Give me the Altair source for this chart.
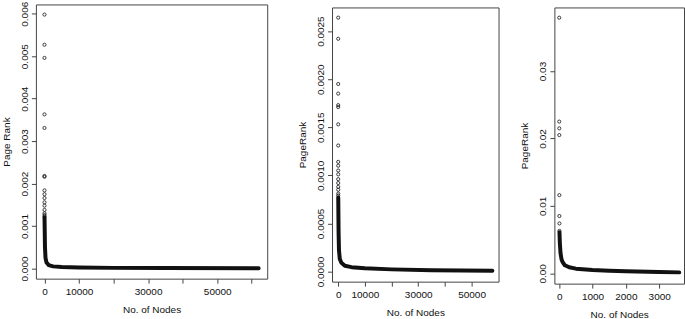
import altair as alt
import pandas as pd

FONT = "Liberation Sans"

# ---------------- Panel 1 ----------------
p1_point_rank = [1, 2, 3, 4, 5, 6, 7, 8, 9, 10, 11, 12, 13, 14, 15, 16]
p1_point_pr = [0.00598, 0.00527, 0.00496, 0.00363, 0.00331, 0.00218, 0.00216,
               0.00184, 0.00175, 0.00166, 0.00156, 0.00148, 0.00138, 0.00130,
               0.00126, 0.00122]
p1_curve_rank = [17, 150, 300, 600, 1200, 2500, 5000, 10000, 20000, 35000, 62000]
p1_curve_pr = [0.00120, 0.00050, 0.00025, 0.00014, 0.00008, 0.00005, 0.000035,
               0.000025, 0.000015, 0.00001, 0.000005]
p1_xticks = [0, 10000, 20000, 30000, 40000, 50000, 60000]
p1_xlabels = [0, 10000, 30000, 50000]
p1_yticks = [0.000, 0.001, 0.002, 0.003, 0.004, 0.005, 0.006]

# ---------------- Panel 2 ----------------
p2_point_rank = list(range(1, 19))
p2_point_pr = [0.00264, 0.00242, 0.00195, 0.00185, 0.00173, 0.00171, 0.00153,
               0.00131, 0.00114, 0.00110, 0.00105, 0.00101, 0.00096, 0.00092,
               0.00088, 0.00085, 0.00081, 0.00079]
p2_curve_rank = [19, 150, 300, 600, 1200, 2500, 5000, 10000, 20000, 35000, 57800]
p2_curve_pr = [0.00077, 0.00040, 0.00022, 0.00013, 0.00009, 0.00006, 0.000045,
               0.000033, 0.000022, 0.000014, 0.000008]
p2_xticks = [0, 10000, 20000, 30000, 40000, 50000]
p2_xlabels = [0, 10000, 30000, 50000]
p2_yticks = [0.0000, 0.0005, 0.0010, 0.0015, 0.0020, 0.0025]

# ---------------- Panel 3 ----------------
p3_point_rank = list(range(1, 9))
p3_point_pr = [0.0379, 0.0225, 0.0215, 0.0205, 0.0116, 0.0085, 0.0074, 0.0063]
p3_curve_rank = [9, 20, 40, 70, 100, 170, 300, 500, 1000, 1500, 2000, 3000, 3600]
p3_curve_pr = [0.0061, 0.0045, 0.0030, 0.0021, 0.0017, 0.0012, 0.0009, 0.0007,
               0.0005, 0.0004, 0.0003, 0.0002, 0.00015]
p3_xticks = [0, 1000, 2000, 3000]
p3_xlabels = [0, 1000, 2000, 3000]
p3_yticks = [0.00, 0.01, 0.02, 0.03]


def panel(pt_rank, pt_pr, cv_rank, cv_pr, xdom, ydom, xticks, xlabels,
          yticks, yfmt, ytitle, w, h):
    labelled = " || ".join(f"datum.value == {v}" for v in xlabels)
    xenc = alt.X(
        "rank:Q",
        scale=alt.Scale(domain=xdom, nice=False, zero=False),
        axis=alt.Axis(values=xticks, title="No. of Nodes",
                      labelExpr=f"({labelled}) ? format(datum.value, 'd') : ''",
                      labelOverlap=False, labelFlush=False,
                      labelPadding=3, titlePadding=8),
    )
    yenc = alt.Y(
        "pr:Q",
        scale=alt.Scale(domain=ydom, nice=False, zero=False),
        axis=alt.Axis(values=yticks, format=yfmt, title=ytitle,
                      labelAngle=270, labelAlign="center",
                      labelBaseline="alphabetic", labelOverlap=False,
                      labelFlush=False, labelPadding=4, titlePadding=8),
    )
    pts = pd.DataFrame({"rank": pt_rank, "pr": pt_pr})
    crv = pd.DataFrame({"rank": cv_rank, "pr": cv_pr})
    line = alt.Chart(crv).mark_line(
        color="#111", strokeWidth=4, strokeCap="round", strokeJoin="round"
    ).encode(x=xenc, y=yenc)
    dots = alt.Chart(pts).mark_point(
        shape="circle", filled=False, size=10, strokeWidth=0.8,
        color="#111", opacity=1
    ).encode(x=xenc, y=yenc)
    return alt.layer(line, dots).properties(width=w, height=h)


def spacer(w, h):
    # empty strip used only to push a panel down a few pixels
    return alt.Chart(pd.DataFrame({"s": [0]})).mark_rect(opacity=0).encode(
        x=alt.value(0), x2=alt.value(1), y=alt.value(0), y2=alt.value(1)
    ).properties(width=w, height=h,
                 view=alt.ViewBackground(stroke="transparent", strokeWidth=0))


c1 = panel(p1_point_rank, p1_point_pr, p1_curve_rank, p1_curve_pr,
           [-2480, 64480], [-0.000239, 0.006219], p1_xticks, p1_xlabels,
           p1_yticks, ".3f", "Page Rank", 232, 275)
c2 = panel(p2_point_rank, p2_point_pr, p2_curve_rank, p2_curve_pr,
           [-2310, 60110], [-0.0001056, 0.002746], p2_xticks, p2_xlabels,
           p2_yticks, ".4f", "PageRank", 167, 275)
c3 = panel(p3_point_rank, p3_point_pr, p3_curve_rank, p3_curve_pr,
           [-144, 3744], [-0.00152, 0.03942], p3_xticks, p3_xlabels,
           p3_yticks, ".2f", "PageRank", 130, 277)

col2 = alt.vconcat(spacer(167, 2), c2, spacing=0)
col3 = alt.vconcat(spacer(130, 2), c3, spacing=0)

chart = alt.hconcat(
    alt.hconcat(c1, col2, spacing=28),
    col3,
    spacing=20,
).properties(
    padding={"left": 1, "top": 0, "right": 0, "bottom": 0},
    background="white",
).configure_view(
    stroke="#444", strokeWidth=1
).configure_axis(
    domain=False, grid=False, ticks=True, tickColor="#444", tickSize=4.5,
    tickWidth=1, labelFont=FONT, labelFontSize=10, labelColor="#111",
    titleFont=FONT, titleFontSize=10, titleFontWeight="normal",
    titleColor="#111",
)

chart.save("out.html", embed_options={"renderer": "svg", "actions": False})
